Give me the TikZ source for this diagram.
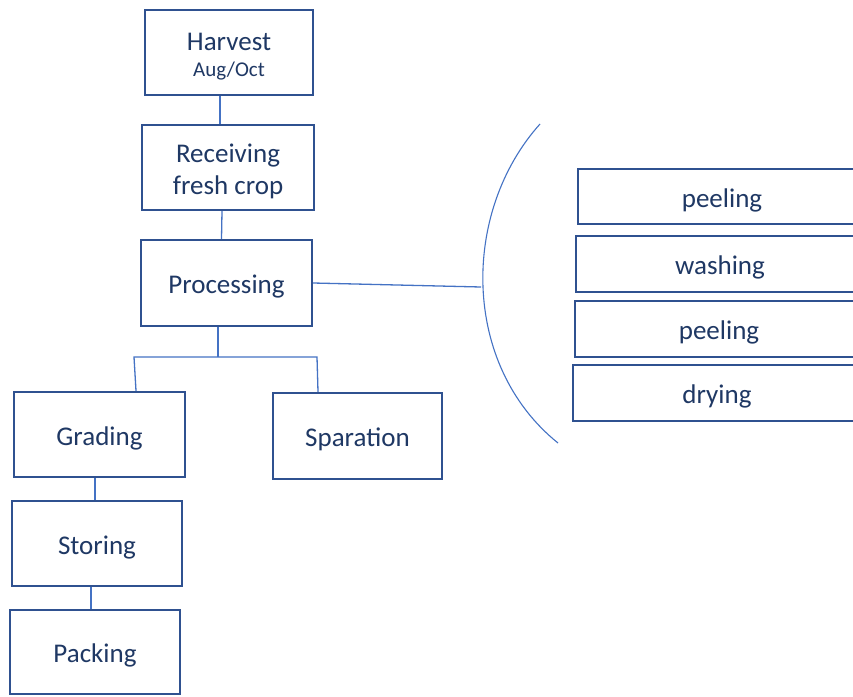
\documentclass[tikz,border=0pt]{standalone}
\usepackage{fontspec}
\setmainfont{Carlito}
\definecolor{boxline}{HTML}{2F5190}
\definecolor{boxtext}{HTML}{1F3864}
\definecolor{linkblue}{HTML}{4472C4}
% box caption, drawn a little below the centre while keeping its size
\newcommand{\boxcaption}[1]{\raisebox{-4.5pt}[\height][\depth]{\begin{tabular}{@{}c@{}}#1\end{tabular}}}
\begin{document}
\begin{tikzpicture}[x=1pt,y=-1pt,
  stepbox/.style={draw=boxline, line width=2.4pt, fill=white, rectangle,
    text=boxtext, font=\fontsize{27}{32}\selectfont, align=center,
    inner sep=0pt},
  link/.style={draw=linkblue, line width=1.3pt}]
\clip (0,0) rectangle (853,696);
\fill[white] (0,0) rectangle (853,696);

% main column
\node[stepbox, minimum width=168pt, minimum height=85pt] (harvest) at (229,52.5)
  {\boxcaption{Harvest\\[-6pt]{\fontsize{21}{25}\selectfont Aug/Oct}}};
\node[stepbox, minimum width=172pt, minimum height=85pt] (recv) at (228,167.5)
  {\boxcaption{Receiving\\fresh crop}};
\node[stepbox, minimum width=171pt, minimum height=86pt] (proc) at (226.5,283)
  {\boxcaption{Processing}};

% lower branches
\node[stepbox, minimum width=171pt, minimum height=85pt] (grad) at (99.5,434.5)
  {\boxcaption{Grading}};
\node[stepbox, minimum width=169pt, minimum height=86pt] (sep) at (357.5,436)
  {\boxcaption{Sparation}};
\node[stepbox, minimum width=170pt, minimum height=85pt] (stor) at (97,543.5)
  {\boxcaption{Storing}};
\node[stepbox, minimum width=170pt, minimum height=84pt] (pack) at (95,652)
  {\boxcaption{Packing}};

% processing operations
\node[stepbox, minimum width=288pt, minimum height=55pt] (op1) at (722,196.5) {\boxcaption{peeling}};
\node[stepbox, minimum width=288pt, minimum height=56pt] (op2) at (720,264) {\boxcaption{washing}};
\node[stepbox, minimum width=288pt, minimum height=56pt] (op3) at (719,329) {\boxcaption{peeling}};
\node[stepbox, minimum width=288pt, minimum height=56pt] (op4) at (717,393) {\boxcaption{drying}};

% connectors
\draw[link] ([xshift=-9pt]harvest.south) -- ([xshift=-8pt]recv.north);
\draw[link] ([xshift=-6pt]recv.south) -- ([xshift=-5pt]proc.north);

\coordinate (fork) at (218,357);
\coordinate (forkL) at (134,357);
\coordinate (forkR) at (317,357);
\draw[link] ([xshift=-8.5pt]proc.south) -- (fork);
\draw[link] ([xshift=36.5pt]grad.north) -- (forkL) -- (forkR) -- ([xshift=-39.5pt]sep.north);

\draw[link] ([xshift=-4.5pt]grad.south) -- ([xshift=-2pt]stor.north);
\draw[link] ([xshift=-6pt]stor.south) -- ([xshift=-4pt]pack.north);

% bracket round the operations
\coordinate (arcmid) at (481,287);
\draw[link, line width=1.1pt] (540,124) .. controls (461,212) and (461,365) .. (558,443);
\draw[link] (proc.east) -- (arcmid);
\end{tikzpicture}
\end{document}
